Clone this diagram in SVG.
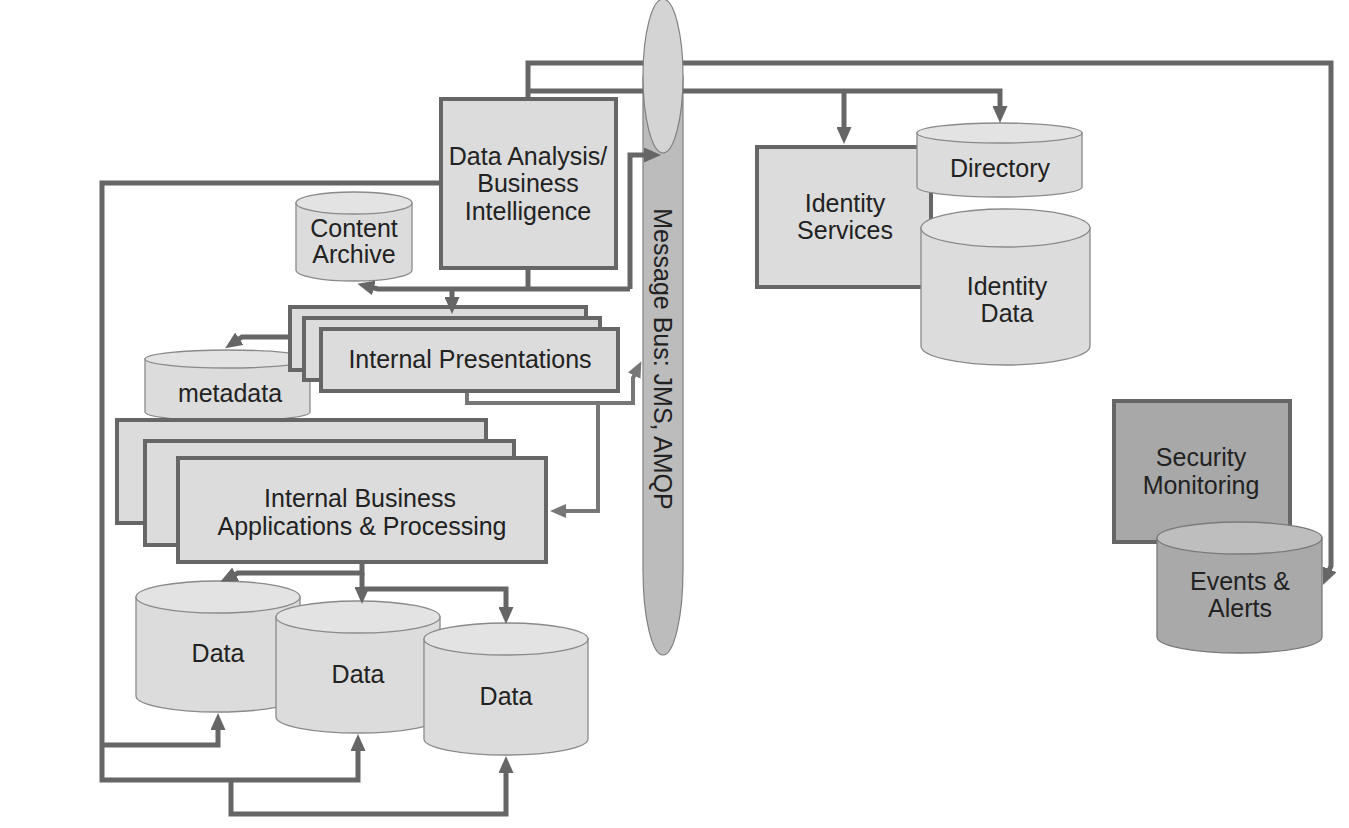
<svg xmlns="http://www.w3.org/2000/svg" width="1349" height="828" viewBox="0 0 1349 828">
<style>
  text { font-family: "Liberation Sans", Arial, sans-serif; font-size: 25px; fill: #222; text-anchor: middle; }
  .box { fill: #dcdcdc; stroke: #666; stroke-width: 4; }
  .dbox { fill: #a8a8a8; stroke: #666; stroke-width: 4; }
  .cyl { fill: #dcdcdc; stroke: #8a8a8a; stroke-width: 1.3; }
  .cyltop { fill: #e3e3e3; stroke: #8a8a8a; stroke-width: 1.3; }
  .dcyl { fill: #a9a9a9; stroke: #7a7a7a; stroke-width: 1.3; }
  .dcyltop { fill: #bebebe; stroke: #7a7a7a; stroke-width: 1.3; }
  .conn { fill: none; stroke: #666; stroke-width: 5; stroke-linejoin: miter; marker-end: url(#arr); }
  .conn-n { fill: none; stroke: #666; stroke-width: 5; }
  .conn2 { fill: none; stroke: #777; stroke-width: 4; marker-end: url(#arr2); }
</style>
<defs>
  <marker id="arr" viewBox="0 0 17 15" refX="4" refY="7.5" markerWidth="17" markerHeight="15" markerUnits="userSpaceOnUse" orient="auto">
    <path d="M0,0 L17,7.5 L0,15 z" fill="#666"/>
  </marker>
  <marker id="arr2" viewBox="0 0 16 14" refX="4" refY="7" markerWidth="16" markerHeight="14" markerUnits="userSpaceOnUse" orient="auto">
    <path d="M0,0 L16,7 L0,14 z" fill="#777"/>
  </marker>
</defs>
<rect width="1349" height="828" fill="#fff"/>

<g id="bus-body">
  <path d="M643,76 V570 A20,85 0 0 0 683,570 V76 Z" fill="#bcbcbc" stroke="#808080" stroke-width="1.2"/>
  <text transform="translate(663,359) rotate(90)" x="0" y="9">Message Bus: JMS, AMQP</text>
</g>

<g id="data-analysis">
  <rect class="box" x="441" y="99" width="175" height="169"/>
  <text x="528" y="165">Data Analysis/</text>
  <text x="528" y="192">Business</text>
  <text x="528" y="220">Intelligence</text>
</g>

<g id="content-archive">
  <path class="cyl" d="M296,203 V270 A58,11 0 0 0 412,270 V203 Z"/>
  <ellipse class="cyltop" cx="354" cy="203" rx="58" ry="11"/>
  <text x="354" y="237">Content</text>
  <text x="354" y="263">Archive</text>
</g>

<g id="metadata">
  <path class="cyl" d="M145,359 V412 A82.5,9 0 0 0 310,412 V359 Z"/>
  <ellipse class="cyltop" cx="227.5" cy="359" rx="82.5" ry="9"/>
  <text x="230" y="402">metadata</text>
</g>

<g id="internal-presentations">
  <rect class="box" x="290" y="307" width="296" height="63"/>
  <rect class="box" x="304" y="318" width="296" height="62"/>
  <rect class="box" x="321" y="329" width="297" height="62"/>
  <text x="470" y="368">Internal Presentations</text>
</g>

<g id="internal-business">
  <rect class="box" x="117" y="420" width="369" height="103"/>
  <rect class="box" x="145" y="441" width="369" height="104"/>
  <rect class="box" x="178" y="458" width="368" height="104"/>
  <text x="360" y="507">Internal Business</text>
  <text x="362" y="535">Applications &amp; Processing</text>
</g>

<g id="data-1">
  <path class="cyl" d="M136,597 V696 A82,16 0 0 0 300,696 V597 Z"/>
  <ellipse class="cyltop" cx="218" cy="597" rx="82" ry="16"/>
  <text x="218" y="662">Data</text>
</g>
<g id="data-2">
  <path class="cyl" d="M276,617 V717 A82,16 0 0 0 440,717 V617 Z"/>
  <ellipse class="cyltop" cx="358" cy="617" rx="82" ry="16"/>
  <text x="358" y="683">Data</text>
</g>
<g id="data-3">
  <path class="cyl" d="M424,639 V739 A82,16 0 0 0 588,739 V639 Z"/>
  <ellipse class="cyltop" cx="506" cy="639" rx="82" ry="16"/>
  <text x="506" y="705">Data</text>
</g>

<g id="identity-services">
  <rect class="box" x="757" y="147" width="174" height="140"/>
  <text x="845" y="212">Identity</text>
  <text x="845" y="239">Services</text>
</g>

<g id="directory">
  <path class="cyl" d="M917,133 V187 A82.5,10 0 0 0 1082,187 V133 Z"/>
  <ellipse class="cyltop" cx="999.5" cy="133" rx="82.5" ry="10"/>
  <text x="1000" y="177">Directory</text>
</g>

<g id="identity-data">
  <path class="cyl" d="M921,228 V346 A84.5,19 0 0 0 1090,346 V228 Z"/>
  <ellipse class="cyltop" cx="1005.5" cy="228" rx="84.5" ry="19"/>
  <text x="1007" y="295">Identity</text>
  <text x="1007" y="322">Data</text>
</g>

<g id="security-monitoring">
  <rect class="dbox" x="1114" y="401" width="176" height="141"/>
  <text x="1201" y="466">Security</text>
  <text x="1201" y="494">Monitoring</text>
</g>

<g id="events-alerts">
  <path class="dcyl" d="M1157,538 V637 A82.5,16 0 0 0 1322,637 V538 Z"/>
  <ellipse class="dcyltop" cx="1239.5" cy="538" rx="82.5" ry="16"/>
  <text x="1240" y="590">Events &amp;</text>
  <text x="1240" y="617">Alerts</text>
</g>

<g id="connectors">
  <path class="conn" d="M528,97 V63 H1331 V566 L1328,573"/>
  <path class="conn" d="M528,91 H1000 V110"/>
  <path class="conn" d="M844,91 V131"/>
  <path class="conn-n" d="M528,270 V289"/>
  <path class="conn" d="M630,289 V155 H648"/>
  <path class="conn" d="M630,289 H378 L370,287"/>
  <path class="conn" d="M452,289 V301"/>
  <path class="conn" d="M290,337 H242 L236,341"/>
  <path class="conn2" d="M467,393 V403 H633 V378 L636,372"/>
  <path class="conn2" d="M598,403 V511 H562"/>
  <path class="conn" d="M362,564 V573 H238 L232,576"/>
  <path class="conn" d="M362,573 V591"/>
  <path class="conn" d="M362,589 H506 V611"/>
  <path class="conn" d="M441,183 H102 V780 H358 V747"/>
  <path class="conn" d="M102,745 H218 V726"/>
  <path class="conn" d="M231,780 V814 H506 V769"/>
</g>

<g id="bus-cap">
  <ellipse cx="663" cy="76" rx="20" ry="77" fill="#d4d4d4" stroke="#808080" stroke-width="1.2"/>
</g>
</svg>
